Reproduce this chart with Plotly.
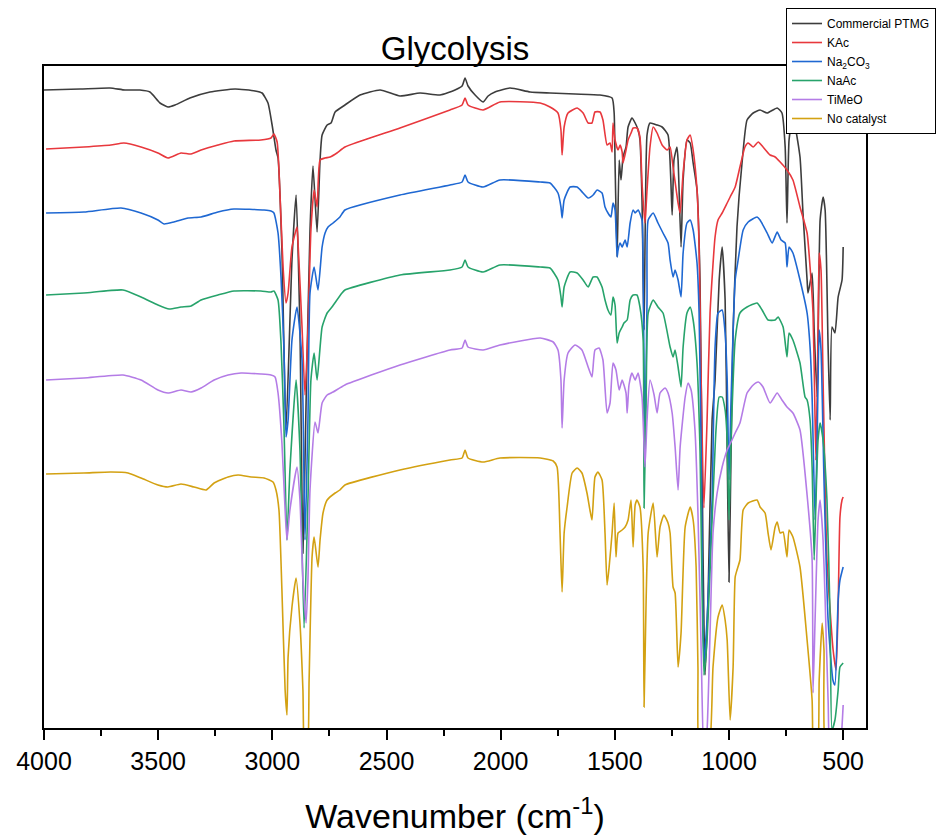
import plotly.graph_objects as go

# Wavenumber (cm-1) and offset transmittance (arbitrary units)
ptmg_wn = [4000,3842,3711,3645,3580,3536,3492,3457,3426,3361,3273,3163,3076,3045,3019,3001,2984,2975,2958,2940,
           2914,2896,2879,2866,2852,2835,2822,2804,2791,2782,2760,2743,2725,2682,2616,2528,2441,2353,2266,2200,
           2169,2156,2143,2112,2077,2055,2025,1959,1871,1784,1674,1565,1512,1503,1499,1490,1481,1473,1464,1451,
           1442,1425,1411,1398,1390,1381,1372,1359,1346,1315,1293,1267,1249,1241,1228,1223,1210,1201,1184,1170,
           1157,1140,1127,1114,1105,1092,1074,1061,1043,1030,1017,1008,1000,991,982,965,943,921,894,864,
           833,789,768,754,746,737,724,711,689,676,658,654,636,627,614,601,588,579,566,557,
           549,536,522,505,500]
ptmg_t = [638,639,640,638,638,636,625,621,623,630,636,639,637,635,625,603,578,570,478,298,
          468,533,398,175,328,498,562,496,568,593,603,605,616,623,633,638,632,635,633,638,
          642,650,642,633,626,632,636,640,636,635,634,633,630,615,565,471,568,548,571,581,
          601,610,605,598,588,528,398,593,605,603,601,593,513,568,581,568,481,548,588,585,
          565,538,448,178,53,128,308,348,448,481,428,278,146,278,398,501,565,608,615,618,
          615,620,615,581,505,588,605,601,571,515,448,435,455,398,331,508,531,518,381,308,
          401,395,431,448,481]

kac_wn = [3991,3825,3707,3650,3575,3501,3457,3400,3356,3312,3238,3168,3050,3006,2993,2979,2971,2953,2940,2931,
          2914,2892,2888,2870,2857,2844,2831,2817,2804,2791,2769,2747,2717,2682,2441,2222,2169,2156,2143,2077,
          2003,1827,1784,1749,1736,1731,1722,1705,1665,1639,1617,1600,1587,1565,1552,1534,1521,1512,1508,1499,
          1486,1477,1468,1464,1451,1442,1429,1420,1403,1390,1381,1368,1359,1346,1332,1315,1293,1271,1258,1245,
          1223,1214,1201,1184,1170,1157,1140,1131,1122,1110,1096,1083,1061,1048,1030,1008,995,973,952,930,
          916,894,872,851,820,798,776,746,720,689,658,645,632,623,619,610,605,597,588,571,
          544,531,522,514,505,500]
kac_t = [579,581,583,585,581,575,570,575,574,578,583,587,588,590,594,586,558,461,425,435,
         481,501,488,401,333,398,498,538,521,568,570,571,575,581,600,618,623,630,623,618,
         626,625,621,615,598,573,601,615,620,615,605,605,616,616,608,583,585,576,605,588,
         578,583,576,565,578,588,595,600,600,591,545,505,538,581,601,595,583,578,581,561,
         525,515,555,588,593,578,538,481,348,220,308,415,491,508,515,525,531,541,561,581,
         585,581,586,581,573,571,566,558,548,521,495,461,415,308,268,398,475,458,348,168,
         78,58,121,211,228,231]

na2co3_wn = [3991,3825,3663,3575,3501,3474,3431,3369,3312,3238,3168,3036,3006,2993,2975,2962,2949,2940,2931,2914,
             2892,2870,2857,2844,2835,2817,2800,2782,2769,2756,2734,2704,2682,2441,2222,2169,2156,2143,2077,2003,
             1827,1784,1749,1736,1731,1722,1696,1665,1639,1617,1595,1578,1556,1543,1530,1517,1508,1499,1490,1486,
             1477,1468,1455,1446,1433,1420,1411,1398,1381,1376,1368,1359,1354,1332,1311,1289,1267,1258,1245,1236,
             1223,1210,1201,1184,1170,1157,1140,1131,1122,1110,1096,1074,1061,1048,1030,1017,1008,1000,991,973,
             960,938,916,877,864,833,811,789,772,754,746,737,720,689,658,645,636,623,614,605,
             597,584,566,545,536,522,514,500]
na2co3_t = [515,516,520,515,508,504,506,510,511,516,519,518,517,515,495,451,378,291,308,388,
            421,368,188,308,435,461,438,481,495,501,505,511,518,533,543,546,553,546,541,548,
            546,545,535,521,510,528,541,541,535,530,533,538,535,521,515,511,525,518,471,478,
            485,481,488,481,505,518,515,518,508,448,288,428,508,515,505,495,485,468,451,458,
            448,431,475,505,508,498,465,415,278,65,108,228,381,415,418,395,348,248,328,448,
            468,498,506,511,508,495,485,496,488,485,461,481,475,448,415,381,331,208,288,398,
            378,248,108,48,43,128,148,161]

naac_wn = [3991,3825,3654,3575,3501,3452,3400,3356,3312,3238,3168,3050,3006,2993,2975,2962,2949,2936,2923,2896,
           2879,2861,2844,2831,2817,2804,2782,2760,2739,2695,2682,2441,2222,2169,2156,2143,2077,2003,1827,1784,
           1749,1736,1731,1722,1696,1665,1639,1617,1595,1578,1556,1543,1530,1517,1508,1499,1490,1481,1468,1460,
           1446,1433,1420,1403,1390,1376,1372,1363,1354,1332,1311,1289,1258,1245,1236,1223,1210,1201,1184,1170,
           1157,1140,1127,1110,1096,1074,1057,1043,1030,1017,1008,1000,991,973,952,921,877,855,829,798,
           785,763,746,737,720,689,667,658,645,636,627,619,610,601,588,571,557,549,536,522,
           514,500]
naac_t = [433,435,438,431,423,419,421,422,428,433,437,437,436,437,428,385,301,188,258,348,
          278,100,228,348,375,348,401,415,421,435,438,453,458,461,468,461,456,463,461,460,
          448,431,421,441,456,455,448,441,451,451,441,428,418,413,431,423,385,395,401,405,
          408,428,433,433,421,388,220,328,415,428,421,415,381,371,378,361,341,381,415,421,
          408,365,278,53,88,208,298,331,331,318,288,208,288,388,415,421,425,418,408,408,
          411,401,371,395,388,365,331,328,308,261,168,228,288,305,288,228,108,-2,8,38,
          61,65]

timeo_wn = [3991,3825,3654,3575,3501,3457,3400,3356,3312,3255,3194,3137,3050,3006,2988,2975,2958,2944,2936,2923,
            2892,2879,2866,2852,2844,2835,2813,2800,2782,2760,2734,2682,2441,2222,2169,2156,2143,2077,2003,1827,
            1770,1749,1736,1731,1722,1705,1674,1644,1617,1600,1587,1569,1552,1534,1521,1508,1495,1481,1468,1451,
            1446,1438,1425,1411,1398,1381,1368,1359,1346,1328,1315,1302,1280,1267,1249,1236,1223,1214,1192,1179,
            1166,1149,1136,1122,1110,1096,1083,1070,1052,1030,1008,987,973,952,921,894,872,851,820,789,
            768,746,720,689,658,636,632,623,610,601,588,579,566,553,522,509,500]
timeo_t = [348,350,353,348,338,335,338,336,340,348,353,355,354,353,351,335,285,218,188,218,
           261,228,148,105,148,238,306,295,325,333,336,343,363,378,380,388,381,378,383,390,
           386,378,348,300,348,375,383,378,361,351,378,380,368,315,325,365,358,338,348,335,
           315,343,355,348,355,331,261,308,348,333,315,335,340,335,315,281,238,281,331,345,
           338,298,215,78,-32,-2,95,195,235,261,278,288,295,305,335,343,346,341,325,335,
           328,321,315,298,233,168,35,108,208,228,188,128,28,-32,-32,-12,23]

nocat_wn = [3991,3825,3707,3632,3575,3501,3457,3400,3343,3290,3255,3194,3150,3093,3036,2997,2984,2971,2958,2944,
            2936,2931,2914,2896,2879,2866,2857,2848,2839,2826,2817,2800,2791,2778,2760,2725,2704,2682,2441,2222,
            2169,2156,2143,2077,2003,1827,1770,1753,1740,1731,1722,1709,1687,1665,1644,1622,1609,1600,1587,1574,
            1556,1543,1534,1525,1512,1503,1495,1486,1468,1455,1442,1429,1420,1411,1403,1390,1376,1372,1363,1354,
            1332,1315,1302,1285,1267,1258,1245,1236,1223,1210,1192,1170,1157,1144,1136,1127,1092,1070,1048,1030,
            1017,1008,995,982,973,965,952,938,916,877,864,842,829,816,798,789,776,763,746,737,
            720,689,658,636,627,614,605,592,584,571,500]
nocat_t = [254,255,256,255,250,243,241,244,241,238,245,251,253,251,250,246,238,218,138,38,
           13,71,121,150,105,38,-32,-32,48,171,191,161,188,215,228,235,238,243,258,268,
           270,278,270,266,270,270,267,261,195,136,195,221,255,260,255,235,218,208,251,256,
           248,195,143,161,195,225,171,195,198,201,208,228,181,223,228,221,161,21,128,195,
           225,171,201,213,205,195,141,135,61,95,201,221,208,161,61,-32,-32,61,111,123,
           108,88,8,61,151,158,168,218,225,228,221,215,195,178,201,206,195,196,171,198,
           191,161,88,28,-32,-32,48,105,78,-32,-32]

series_names = ["Commercial PTMG", "KAc", "Na<sub>2</sub>CO<sub>3</sub>", "NaAc", "TiMeO", "No catalyst"]
series_x = [ptmg_wn, kac_wn, na2co3_wn, naac_wn, timeo_wn, nocat_wn]
series_y = [ptmg_t, kac_t, na2co3_t, naac_t, timeo_t, nocat_t]
colors = ["#3d3d3d", "#e8383d", "#1f68d2", "#27a36b", "#b47ce6", "#d3a112"]

font_family = "Liberation Sans, Arial, sans-serif"

fig = go.Figure()
for name, xs, ys, c in zip(series_names, series_x, series_y, colors):
    fig.add_trace(go.Scatter(x=xs, y=ys, mode="lines", name=name,
                             line=dict(color=c, width=1.6, shape="spline", smoothing=0.5)))

fig.update_layout(
    width=936, height=835,
    margin=dict(l=44, r=70, t=66, b=107, autoexpand=False),
    paper_bgcolor="white", plot_bgcolor="white",
    font=dict(family=font_family, color="black"),
    title=dict(text="Glycolysis", x=0.5, xanchor="center", xref="paper",
               y=1 - 48 / 835, yanchor="middle", yref="container",
               font=dict(size=33, family=font_family, color="black")),
    legend=dict(x=0.9027, y=1.0876, xanchor="left", yanchor="top",
                bgcolor="white", bordercolor="black", borderwidth=1,
                font=dict(size=12, family=font_family, color="black"),
                itemwidth=30, tracegroupgap=0),
    showlegend=True,
)
fig.update_xaxes(range=[4000, 400], tick0=0, dtick=500, ticks="outside", ticklen=10, tickwidth=1.5,
                 tickcolor="black", showline=True, linewidth=2, linecolor="black", mirror=True,
                 showgrid=False, zeroline=False,
                 tickfont=dict(size=25, family=font_family, color="black"),
                 minor=dict(dtick=250, ticks="outside", ticklen=6, tickwidth=1.5, tickcolor="black", showgrid=False),
                 title=dict(text="Wavenumber (cm<sup>-1</sup>)", font=dict(size=34, family=font_family, color="black"),
                            standoff=30))
fig.update_yaxes(range=[0, 662], showticklabels=False, ticks="", showline=True, linewidth=2,
                 linecolor="black", mirror=True, showgrid=False, zeroline=False)

fig.write_html("out.html")
